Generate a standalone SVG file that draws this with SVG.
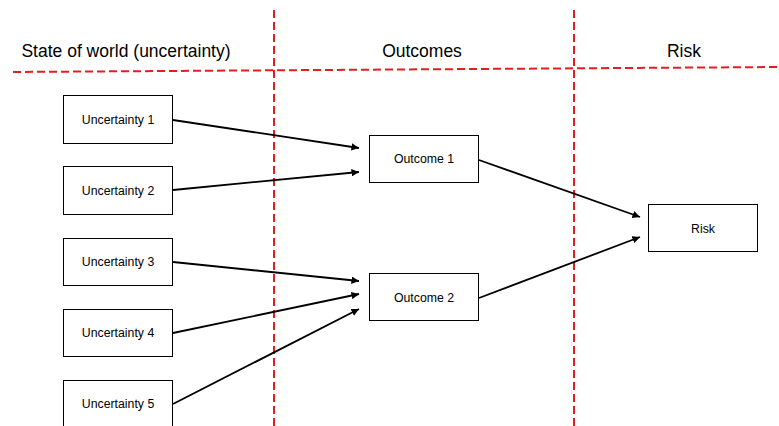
<svg xmlns="http://www.w3.org/2000/svg" width="779" height="426" viewBox="0 0 779 426">
<style>
.bg{fill:#fff}
.node rect{fill:#fff;stroke:#000;stroke-width:1}
.node text{font-family:"Liberation Sans",Arial,sans-serif;font-size:12.3px;fill:#000;text-anchor:middle}
.hdr{font-family:"Liberation Sans",Arial,sans-serif;font-size:17.5px;fill:#000;text-anchor:middle}
.div{stroke:#e31e1e;stroke-width:2;stroke-dasharray:8 4;fill:none}
#connectors line{stroke:#000;stroke-width:1.8;marker-end:url(#ah)}
</style>
<defs>
<marker id="ah" viewBox="0 0 10 10" refX="10" refY="5" markerWidth="4.2" markerHeight="4.2" orient="auto" markerUnits="strokeWidth">
<path d="M0,0 L10,5 L0,10 z" fill="#000"/>
</marker>
</defs>
<rect class="bg" x="0" y="0" width="779" height="426"/>
<g id="dividers">
<line class="div" x1="13" y1="72" x2="779" y2="67"/>
<line class="div" x1="274" y1="10" x2="274" y2="426"/>
<line class="div" x1="574" y1="10" x2="574" y2="426"/>
</g>
<g id="headers">
<text class="hdr" x="126" y="57">State of world (uncertainty)</text>
<text class="hdr" x="422" y="57">Outcomes</text>
<text class="hdr" x="684" y="57">Risk</text>
</g>
<g id="connectors">
<line x1="173" y1="120" x2="359" y2="148"/>
<line x1="173" y1="190" x2="359" y2="172"/>
<line x1="173" y1="262" x2="359" y2="281"/>
<line x1="173" y1="333" x2="359" y2="294"/>
<line x1="173" y1="404" x2="359" y2="309"/>
<line x1="479" y1="160" x2="640" y2="217"/>
<line x1="479" y1="298" x2="640" y2="237"/>
</g>
<g id="u1" class="node"><rect x="63.5" y="95.5" width="109" height="48"/><text x="118" y="124">Uncertainty 1</text></g>
<g id="u2" class="node"><rect x="63.5" y="166.5" width="109" height="48"/><text x="118" y="195">Uncertainty 2</text></g>
<g id="u3" class="node"><rect x="63.5" y="238.5" width="109" height="47"/><text x="118" y="266">Uncertainty 3</text></g>
<g id="u4" class="node"><rect x="63.5" y="309.5" width="109" height="47"/><text x="118" y="337">Uncertainty 4</text></g>
<g id="u5" class="node"><rect x="63.5" y="380.5" width="109" height="50"/><text x="118" y="408">Uncertainty 5</text></g>
<g id="o1" class="node"><rect x="369.5" y="135.5" width="109" height="47"/><text x="424" y="163">Outcome 1</text></g>
<g id="o2" class="node"><rect x="369.5" y="273.5" width="109" height="47"/><text x="424" y="302">Outcome 2</text></g>
<g id="risk" class="node"><rect x="648.5" y="204.5" width="109" height="47"/><text x="703" y="233">Risk</text></g>
</svg>
